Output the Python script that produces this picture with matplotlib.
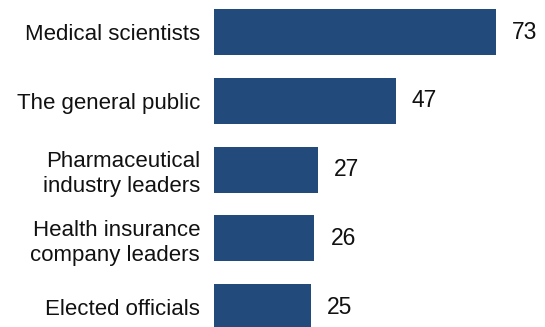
import matplotlib
matplotlib.use("Agg")
import matplotlib.pyplot as plt

groups = [
    "Medical scientists",
    "The general public",
    "Pharmaceutical\nindustry leaders",
    "Health insurance\ncompany leaders",
    "Elected officials",
]
shares = [73, 47, 27, 26, 25]

plt.rcParams["font.family"] = ["Liberation Sans", "DejaVu Sans"]

fig = plt.figure(figsize=(5.45, 3.27), dpi=100)
ax = fig.add_axes([214 / 545, 0, 1 - 214 / 545, 1])

positions = list(range(len(groups)))
bars = ax.barh(positions, shares, height=0.67, color="#224A7B")

ax.set_xlim(0, 331 / 3.863)
ax.set_ylim(4.29, -0.47)

ax.set_yticks(positions)
ax.set_yticklabels(groups, fontsize=16, linespacing=1.25, color="#111111")
ax.tick_params(axis="y", length=0, pad=10)
ax.set_xticks([])
for side in ax.spines.values():
    side.set_visible(False)

ax.bar_label(bars, labels=[str(v) for v in shares], padding=11.5,
             fontsize=16.5, color="#111111")

fig.savefig("out.png", dpi=100)
